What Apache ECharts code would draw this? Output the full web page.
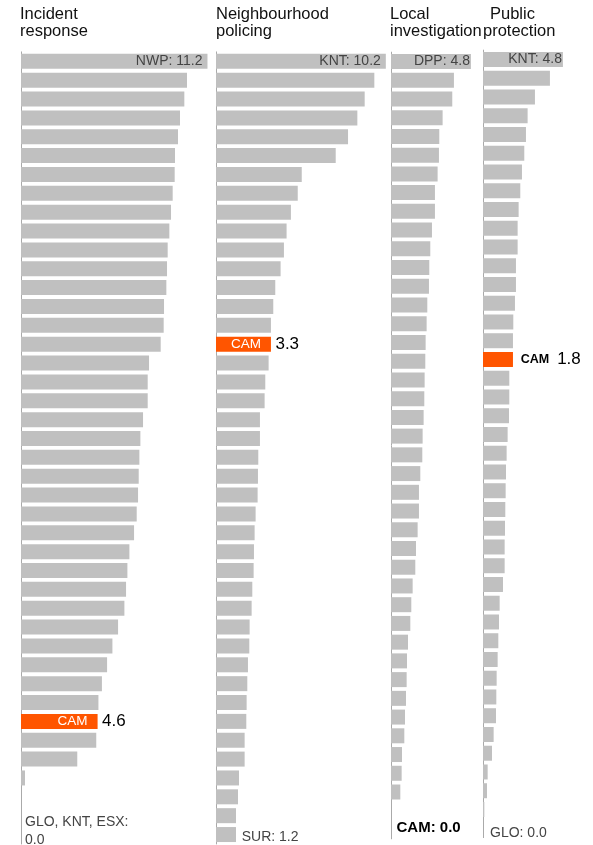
<!DOCTYPE html>
<html>
<head>
<meta charset="utf-8">
<script src="https://cdn.jsdelivr.net/npm/echarts@6/dist/echarts.min.js"></script>
<style>
  html, body { margin: 0; padding: 0; background: #fff; }
  #chart { width: 593px; height: 845px; }
</style>
</head>
<body>
<div id="chart"></div>
<script>
// ---------------- DATA ----------------
const panelTitles = [
  ['Incident', 'response'],
  ['Neighbourhood', 'policing'],
  ['Local', 'investigation'],
  ['Public', 'protection']
];

const incidentResponse = [11.2, 9.97, 9.81, 9.55, 9.43, 9.25, 9.23, 9.11, 9.01, 8.91, 8.81, 8.77,
  8.73, 8.59, 8.57, 8.39, 7.69, 7.61, 7.61, 7.33, 7.17, 7.11, 7.07, 7.03, 6.95, 6.79, 6.51,
  6.39, 6.31, 6.21, 5.83, 5.49, 5.17, 4.86, 4.65, 4.6, 4.52, 3.38, 0.24, 0, 0, 0];

const neighbourhoodPolicing = [10.2, 9.51, 8.93, 8.49, 7.93, 7.19, 5.15, 4.91, 4.5, 4.24, 4.08, 3.88,
  3.56, 3.44, 3.3, 3.3, 3.16, 2.96, 2.92, 2.64, 2.64, 2.54, 2.52, 2.5, 2.38, 2.32, 2.28,
  2.26, 2.18, 2.14, 2.02, 2.0, 1.92, 1.88, 1.84, 1.82, 1.72, 1.72, 1.38, 1.32, 1.2, 1.2];

const localInvestigation = [4.8, 3.78, 3.68, 3.1, 2.9, 2.88, 2.8, 2.64, 2.64, 2.46, 2.36, 2.3,
  2.28, 2.18, 2.14, 2.08, 2.06, 2.02, 2.0, 1.96, 1.9, 1.88, 1.76, 1.68, 1.68, 1.6, 1.5,
  1.46, 1.3, 1.22, 1.16, 1.02, 0.96, 0.94, 0.9, 0.84, 0.8, 0.66, 0.64, 0.56, 0, 0];

const publicProtection = [4.8, 4.02, 3.12, 2.68, 2.58, 2.48, 2.34, 2.24, 2.14, 2.08, 2.08, 1.98,
  1.98, 1.92, 1.82, 1.8, 1.8, 1.58, 1.58, 1.56, 1.48, 1.42, 1.38, 1.36, 1.34, 1.32, 1.3,
  1.3, 1.2, 1.0, 0.96, 0.92, 0.88, 0.82, 0.8, 0.78, 0.64, 0.54, 0.28, 0.24, 0.08, 0];

const topCodes = ['NWP', 'KNT', 'DPP', 'KNT'];
const highlightCode = 'CAM';
const highlightIndex = [35, 15, 41, 16];
const bottomCodes = [['GLO', 'KNT', 'ESX'], ['SUR'], ['CAM'], ['GLO']];

const panelValues = [incidentResponse, neighbourhoodPolicing, localInvestigation, publicProtection];
const rowCategories = incidentResponse.map((_, i) => 'r' + i);

// ---------------- LAYOUT / STYLE ----------------
const PX_PER_UNIT = 16.65;
const FONT = '"Liberation Sans", Arial, Helvetica, sans-serif';
const GREY = '#c0c0c0';
const ORANGE = '#ff5500';
const layout = [
  { left: 21,  top: 51.87, height: 792.1, max: 12, topDist: 5, botDist: 4,   botOffset: [0, -3.6], titleLeft: [20, 20] },
  { left: 216, top: 51.87, height: 792.1, max: 11, topDist: 5, botDist: 5.7, botOffset: [0, 3],    titleLeft: [216, 216] },
  { left: 391, top: 52.13, height: 786.7, max: 6,  topDist: 1, botDist: 5.5, botOffset: [0, -2],   titleLeft: [390, 390] },
  { left: 483, top: 50.1,  height: 787.5, max: 6,  topDist: 1, botDist: 7,   botOffset: [0, 5],    titleLeft: [490, 483] }
];
const titleTops = [6, 23];

// ---------------- BUILD ----------------
const grids = [], xAxes = [], yAxes = [], series = [], titles = [];

panelValues.forEach((vals, p) => {
  const L = layout[p];
  grids.push({ left: L.left, top: L.top, width: L.max * PX_PER_UNIT, height: L.height, containLabel: false });
  xAxes.push({ type: 'value', gridIndex: p, min: 0, max: L.max, show: false });
  yAxes.push({
    type: 'category', gridIndex: p, inverse: true, data: rowCategories, offset: 1,
    axisLine: { show: true, lineStyle: { color: '#aaaaaa', width: 1 } },
    axisTick: { show: false }, axisLabel: { show: false }, splitLine: { show: false }
  });

  panelTitles[p].forEach((line, k) => {
    titles.push({
      text: line, left: L.titleLeft[k], top: titleTops[k], padding: 0,
      textStyle: { fontFamily: FONT, fontSize: 16.5, fontWeight: 'normal', color: '#111', lineHeight: 17 }
    });
  });

  const hi = highlightIndex[p];
  const last = vals.length - 1;

  // Main bars
  const mainData = vals.map((v, j) => {
    const item = { value: v, itemStyle: { color: j === hi ? ORANGE : GREY } };
    if (j === 0) {
      item.label = {
        show: true, position: 'insideRight', distance: L.topDist,
        formatter: topCodes[p] + ': ' + v.toFixed(1),
        fontFamily: FONT, fontSize: 14, color: '#444'
      };
    } else if (j === hi && v * PX_PER_UNIT >= 50) {
      item.label = {
        show: true, position: 'insideRight', distance: 10,
        formatter: highlightCode, fontFamily: FONT, fontSize: 13.5, color: '#fff'
      };
    }
    return item;
  });
  series.push({
    type: 'bar', xAxisIndex: p, yAxisIndex: p, barWidth: 15, barGap: '-100%',
    data: mainData, silent: true, animation: false, label: { show: false }
  });

  // Overlay for outside labels
  const overlayData = vals.map((v, j) => {
    const item = { value: v };
    if (j === last) {
      const codes = bottomCodes[p];
      const isHi = codes.length === 1 && codes[0] === highlightCode;
      const txt = codes.length > 1
        ? codes.join(', ') + ':\n' + v.toFixed(1)
        : codes[0] + ': ' + v.toFixed(1);
      item.label = {
        show: true, position: 'right', distance: L.botDist, offset: L.botOffset,
        formatter: txt, fontFamily: FONT,
        fontSize: isHi ? 15 : 14, fontWeight: isHi ? 'bold' : 'normal',
        color: isHi ? '#000' : '#444', lineHeight: 18, align: 'left'
      };
    } else if (j === hi) {
      if (v * PX_PER_UNIT >= 50) {
        item.label = {
          show: true, position: 'right', distance: 4.5,
          formatter: v.toFixed(1), fontFamily: FONT, fontSize: 17, color: '#000'
        };
      } else {
        item.label = {
          show: true, position: 'right', distance: 7.7,
          formatter: '{n|' + highlightCode + '}{v|' + v.toFixed(1) + '}',
          rich: {
            n: { fontFamily: FONT, fontSize: 12.5, fontWeight: 'bold', color: '#000' },
            v: { fontFamily: FONT, fontSize: 17, color: '#000', padding: [0, 0, 0, 8] }
          }
        };
      }
    }
    return item;
  });
  series.push({
    type: 'bar', xAxisIndex: p, yAxisIndex: p, barWidth: 15, barGap: '-100%',
    itemStyle: { color: 'rgba(0,0,0,0)' }, data: overlayData,
    silent: true, animation: false, z: 5, label: { show: false }
  });
});

const chart = echarts.init(document.getElementById('chart'), null, { renderer: 'canvas' });
chart.setOption({
  backgroundColor: '#ffffff',
  animation: false,
  title: titles,
  grid: grids,
  xAxis: xAxes,
  yAxis: yAxes,
  tooltip: { show: false },
  series: series
});
</script>
</body>
</html>
